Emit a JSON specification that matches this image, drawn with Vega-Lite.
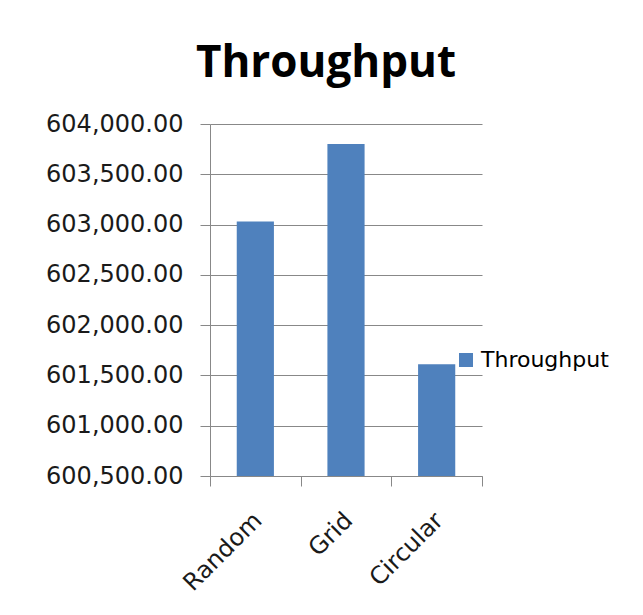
{
  "$schema": "https://vega.github.io/schema/vega-lite/v6.json",
  "width": 272,
  "height": 352,
  "autosize": {"type": "none"},
  "padding": {"left": 210, "top": 124, "right": 161, "bottom": 139},
  "background": "white",
  "data": {
    "values": [
      {"layout": "Random", "series": "Throughput", "throughput": 603030},
      {"layout": "Grid", "series": "Throughput", "throughput": 603800},
      {"layout": "Circular", "series": "Throughput", "throughput": 601610}
    ]
  },
  "title": {
    "text": "Throughput",
    "font": "Open Sans",
    "fontSize": 44,
    "fontWeight": "bold",
    "color": "#000000",
    "anchor": "middle",
    "dx": -20,
    "offset": 26
  },
  "mark": {"type": "bar", "color": "#4F81BD", "clip": true, "width": {"band": 0.41}},
  "encoding": {
    "x": {
      "field": "layout",
      "type": "nominal",
      "sort": null,
      "scale": {"paddingInner": 0, "paddingOuter": 0},
      "axis": {
        "title": null,
        "labelAngle": -45,
        "labelFont": "DejaVu Sans",
        "labelFontSize": 24,
        "labelColor": "#1a1a1a",
        "tickBand": "extent",
        "tickSize": 10,
        "tickColor": "#888888",
        "domainColor": "#888888",
        "labelPadding": 22,
        "labelOffset": -6,
        "grid": false
      }
    },
    "y": {
      "field": "throughput",
      "type": "quantitative",
      "scale": {"domain": [600500, 604000], "zero": false},
      "axis": {
        "title": null,
        "values": [600500, 601000, 601500, 602000, 602500, 603000, 603500, 604000],
        "format": ",.2f",
        "labelFont": "DejaVu Sans",
        "labelFontSize": 24,
        "labelColor": "#1a1a1a",
        "tickSize": 10,
        "tickColor": "#888888",
        "domainColor": "#888888",
        "gridColor": "#888888",
        "labelPadding": 17,
        "grid": true
      }
    },
    "color": {
      "field": "series",
      "type": "nominal",
      "scale": {"range": ["#4F81BD"]},
      "legend": {
        "title": null,
        "orient": "none",
        "legendX": 245,
        "legendY": 225,
        "symbolType": "square",
        "symbolSize": 196,
        "symbolStrokeWidth": 0,
        "labelFont": "DejaVu Sans",
        "labelFontSize": 22,
        "labelColor": "#000000",
        "labelOffset": 4
      }
    }
  },
  "config": {"view": {"stroke": null}}
}
